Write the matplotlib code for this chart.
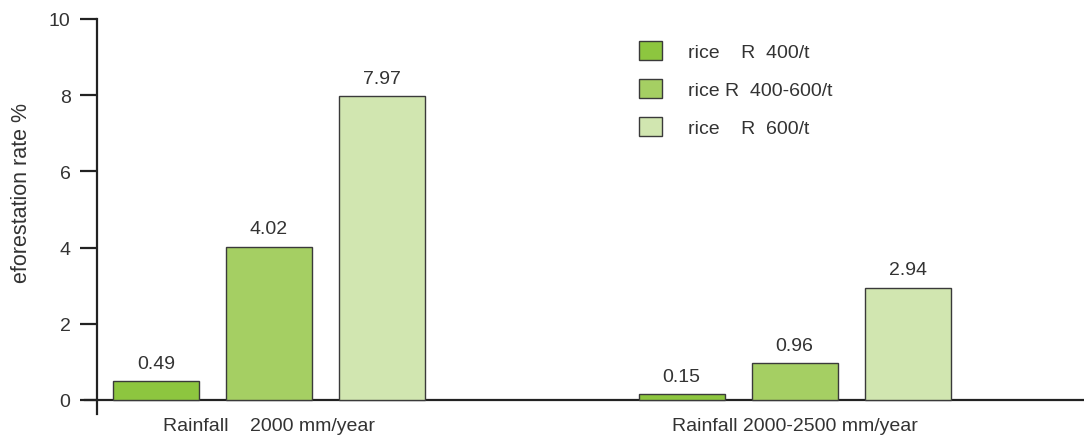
import matplotlib.pyplot as plt
import numpy as np

# Data
groups = ["Rainfall    2000 mm/year", "Rainfall 2000-2500 mm/year"]
series = ["rice    R  400/t", "rice R  400-600/t", "rice    R  600/t"]
low_price = [0.49, 0.15]
mid_price = [4.02, 0.96]
high_price = [7.97, 2.94]

colors = ["#8dc63f", "#a5cf63", "#d1e6b0"]
plt.rcParams['font.family'] = ['Liberation Sans', 'DejaVu Sans']
text_col = "#333333"

fig = plt.figure(figsize=(10.84, 4.39), dpi=100)
ax = fig.add_axes([85 / 1084, 24 / 439, 1 - 85 / 1084, (415 - 20) / 439])

group_x = np.array([0.0, 4.65])
width = 0.76
for i, (vals, col, lab) in enumerate(zip([low_price, mid_price, high_price], colors, series)):
    xs = group_x + (i - 1) * 1.0
    bars = ax.bar(xs, vals, width=width, color=col, edgecolor="#3a3a3a",
                  linewidth=1.0, label=lab, zorder=3)
    for b, v in zip(bars, vals):
        ax.text(b.get_x() + b.get_width() / 2, v + 0.25, f"{v:.2f}",
                ha="center", va="bottom", fontsize=14, color=text_col)

ax.set_xlim(-1.628, 7.21)
ax.set_ylim(-0.37, 10)

for s in ["top", "right"]:
    ax.spines[s].set_visible(False)
ax.spines["left"].set_position(("data", -1.522))
ax.spines["bottom"].set_position(("data", 0))
for s in ["left", "bottom"]:
    ax.spines[s].set_linewidth(1.6)
    ax.spines[s].set_color("#222222")

ax.set_yticks([0, 2, 4, 6, 8, 10])
ax.tick_params(axis="y", direction="out", length=12, width=1.6, pad=7,
               labelsize=14, labelcolor=text_col, color="#222222")
ax.set_xticks(group_x)
ax.set_xticklabels(groups)
ax.tick_params(axis="x", length=0, pad=12, labelsize=14, labelcolor=text_col)

ax.set_ylabel("eforestation rate %", fontsize=15.5, color=text_col)
ax.yaxis.set_label_coords(-0.053, 0.562)

ax.legend(loc="upper left", bbox_to_anchor=(0.5467, 0.965), borderaxespad=0,
          frameon=False, fontsize=14, handlelength=1.2, handleheight=1.15,
          labelspacing=0.92, handletextpad=1.3, labelcolor=text_col)

fig.savefig("out.png", dpi=100)
